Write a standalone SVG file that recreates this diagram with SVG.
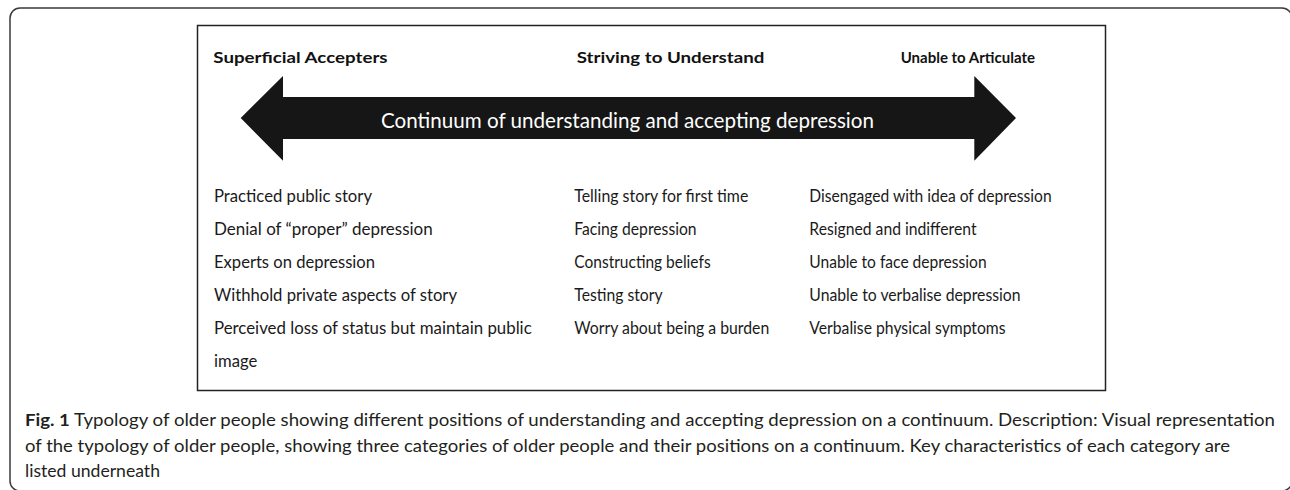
<svg xmlns="http://www.w3.org/2000/svg" width="1290" height="490" viewBox="0 0 1290 490">
  <style>
    .head { font-family: Lato, "Liberation Sans", sans-serif; font-weight: bold; font-size: 16px; fill: #111; }
    .item { font-family: Lato, "Liberation Sans", sans-serif; font-size: 16.5px; fill: #1a1a1a; }
    .arrowtxt { font-family: Lato, "Liberation Sans", sans-serif; font-size: 20.5px; fill: #ffffff; }
    .cap { font-family: Lato, "Liberation Sans", sans-serif; font-size: 17px; fill: #231f20; }
  </style>
  <rect x="0" y="0" width="1290" height="490" fill="#ffffff"/>
  <rect id="frame" x="10" y="8" width="1282" height="483" rx="10" ry="10" fill="none" stroke="#3a3a3a" stroke-width="1.5"/>
  <rect id="panel" x="197.5" y="25.5" width="908" height="365" fill="#ffffff" stroke="#222" stroke-width="1.5"/>

  <g id="connectors">
    <path id="continuum-arrow" d="M240.7,118 L283,76 L283,97 L974.3,97 L974.3,76 L1016,118 L974.3,160.7 L974.3,139 L283,139 L283,160.7 Z" fill="#161616"/>
    <text class="arrowtxt" x="381" y="128" textLength="493" lengthAdjust="spacingAndGlyphs">Continuum of understanding and accepting depression</text>
  </g>

  <g id="superficial-accepters">
    <text class="head" x="213.3" y="63" textLength="174.3" lengthAdjust="spacingAndGlyphs">Superficial Accepters</text>
    <text class="item" x="214" y="201.5" textLength="158" lengthAdjust="spacingAndGlyphs">Practiced public story</text>
    <text class="item" x="214" y="234.5" textLength="218.7" lengthAdjust="spacingAndGlyphs">Denial of “proper” depression</text>
    <text class="item" x="214" y="267.5" textLength="161" lengthAdjust="spacingAndGlyphs">Experts on depression</text>
    <text class="item" x="214" y="300.5" textLength="243" lengthAdjust="spacingAndGlyphs">Withhold private aspects of story</text>
    <text class="item" x="214" y="333.5" textLength="317.7" lengthAdjust="spacingAndGlyphs">Perceived loss of status but maintain public</text>
    <text class="item" x="214" y="366.5" textLength="43.3" lengthAdjust="spacingAndGlyphs">image</text>
  </g>

  <g id="striving-to-understand">
    <text class="head" x="576.7" y="63" textLength="187.7" lengthAdjust="spacingAndGlyphs">Striving to Understand</text>
    <text class="item" x="574.3" y="201.5" textLength="174" lengthAdjust="spacingAndGlyphs">Telling story for first time</text>
    <text class="item" x="574.3" y="234.5" textLength="122.3" lengthAdjust="spacingAndGlyphs">Facing depression</text>
    <text class="item" x="574.3" y="267.5" textLength="136.3" lengthAdjust="spacingAndGlyphs">Constructing beliefs</text>
    <text class="item" x="574.3" y="300.5" textLength="88.3" lengthAdjust="spacingAndGlyphs">Testing story</text>
    <text class="item" x="574.3" y="333.5" textLength="195" lengthAdjust="spacingAndGlyphs">Worry about being a burden</text>
  </g>

  <g id="unable-to-articulate">
    <text class="head" x="900.7" y="63" textLength="134.3" lengthAdjust="spacingAndGlyphs">Unable to Articulate</text>
    <text class="item" x="809.3" y="201.5" textLength="242.3" lengthAdjust="spacingAndGlyphs">Disengaged with idea of depression</text>
    <text class="item" x="809.3" y="234.5" textLength="167.3" lengthAdjust="spacingAndGlyphs">Resigned and indifferent</text>
    <text class="item" x="809.3" y="267.5" textLength="177.3" lengthAdjust="spacingAndGlyphs">Unable to face depression</text>
    <text class="item" x="809.3" y="300.5" textLength="211.3" lengthAdjust="spacingAndGlyphs">Unable to verbalise depression</text>
    <text class="item" x="809.3" y="333.5" textLength="196.3" lengthAdjust="spacingAndGlyphs">Verbalise physical symptoms</text>
  </g>

  <g id="caption">
    <text class="cap" x="25" y="426" textLength="1250" lengthAdjust="spacingAndGlyphs"><tspan font-weight="bold">Fig. 1</tspan> Typology of older people showing different positions of understanding and accepting depression on a continuum. Description: Visual representation</text>
    <text class="cap" x="25" y="451.5" textLength="1205" lengthAdjust="spacingAndGlyphs">of the typology of older people, showing three categories of older people and their positions on a continuum. Key characteristics of each category are</text>
    <text class="cap" x="25" y="477" textLength="135" lengthAdjust="spacingAndGlyphs">listed underneath</text>
  </g>
</svg>
